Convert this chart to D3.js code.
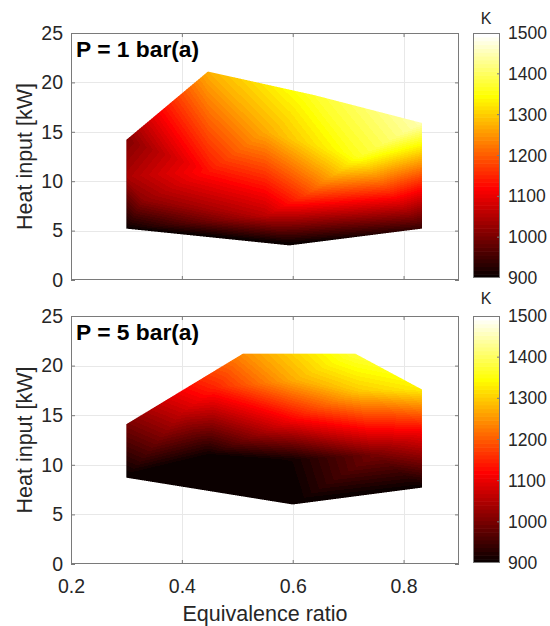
<!DOCTYPE html>
<html>
<head>
<meta charset="utf-8">
<script src="https://cdn.jsdelivr.net/npm/d3@7/dist/d3.min.js"></script>
<style>
  body { margin: 0; background: #fff; }
  svg { display: block; font-family: "Liberation Sans", Arial, Helvetica, sans-serif; }
</style>
</head>
<body>
<svg id="fig" width="550" height="626"></svg>
<script>
// Measured operating points: equivalence ratio, heat input [kW], temperature [K]
// P = 1 bar(a)
const phiLow  = [0.300, 0.594, 0.833, 0.833, 0.447, 0.300, 0.45, 0.72, 0.832, 0.62, 0.55, 0.33, 0.55, 0.64, 0.301];
const heatLow = [5.2,   3.5,   5.2,   15.9,  21.1,  14.2,  11.0, 12.5, 9.5,   8.5,  6.5,  8.0,  15.0, 18.7, 10.5];
const tempLow = [900,   890,   940,   1450,  1275,  1010,  1135, 1365, 1140,  1170, 1060, 1020, 1270, 1370, 1045];

// P = 5 bar(a)
const phiHigh  = [0.300, 0.600, 0.833, 0.833, 0.713, 0.510, 0.300, 0.40, 0.45, 0.60, 0.60, 0.60, 0.832, 0.75, 0.46, 0.72];
const heatHigh = [8.7,   6.0,   7.7,   17.6,  21.2,  21.2,  14.1,  15.3, 11.0, 10.5, 14.5, 18.5, 13.5,  11.0, 17.8, 17.5];
const tempHigh = [895,   895,   900,   1330,  1380,  1245,  1000,  1070, 905,  910,  1115, 1270, 1120,  1000, 1150, 1300];

const panelTitles = ["P = 1 bar(a)", "P = 5 bar(a)"];
const xTicks = [0.2, 0.4, 0.6, 0.8];
const yTicks = [0, 5, 10, 15, 20, 25];
const cbarTicks = [900, 1000, 1100, 1200, 1300, 1400, 1500];
const cbarUnit = "K";
const xLabel = "Equivalence ratio";
const yLabel = "Heat input [kW]";

// MATLAB-style "hot" colormap with 64 entries
function hotColors(m) {
  const n = Math.floor(3 / 8 * m);
  const out = [];
  for (let i = 0; i < m; i++) {
    const r = i < n ? (i + 1) / n : 1;
    const g = i < n ? 0 : (i < 2 * n ? (i - n + 1) / n : 1);
    const b = i < 2 * n ? 0 : (i - 2 * n + 1) / (m - 2 * n);
    out.push(d3.rgb(r * 255, g * 255, b * 255).formatHex());
  }
  return out;
}
const hot = hotColors(64);
const color = d3.scaleQuantize().domain([900, 1500]).range(hot);

const svg = d3.select("#fig");
const textColor = "#262626";
const axisColor = "#7a7a7a";
const gridColor = "#e8e8e8";

const plotX = [71, 459];
const panels = [
  { top: 33,  bottom: 280, phi: phiLow,  heat: heatLow,  temp: tempLow,  title: panelTitles[0], cbar: [33, 278], unitY: 24,  xLabels: false },
  { top: 316, bottom: 564, phi: phiHigh, heat: heatHigh, temp: tempHigh, title: panelTitles[1], cbar: [316, 563], unitY: 304, xLabels: true }
];

// Rasterise the triangulated field with linear interpolation inside each triangle
function drawField(g, p, x, y) {
  const x0 = plotX[0], y0 = p.top;
  const W = plotX[1] - plotX[0], H = p.bottom - p.top;
  const pts = p.phi.map((v, i) => [x(v) - x0, y(p.heat[i]) - y0]);
  const del = d3.Delaunay.from(pts);
  const tri = del.triangles;
  const cov = new Float32Array(W * H);
  const acc = new Float32Array(W * H);
  const S = 3; // subsamples per pixel side
  for (let k = 0; k < tri.length; k += 3) {
    const i = tri[k], j = tri[k + 1], l = tri[k + 2];
    const [ax, ay] = pts[i], [bx, by] = pts[j], [cx, cy] = pts[l];
    const den = (by - cy) * (ax - cx) + (cx - bx) * (ay - cy);
    if (Math.abs(den) < 1e-9) continue;
    const minX = Math.max(0, Math.floor(Math.min(ax, bx, cx)));
    const maxX = Math.min(W - 1, Math.ceil(Math.max(ax, bx, cx)));
    const minY = Math.max(0, Math.floor(Math.min(ay, by, cy)));
    const maxY = Math.min(H - 1, Math.ceil(Math.max(ay, by, cy)));
    for (let py = minY; py <= maxY; py++) {
      for (let px = minX; px <= maxX; px++) {
        let c = 0, tsum = 0;
        for (let sy = 0; sy < S; sy++) {
          for (let sx = 0; sx < S; sx++) {
            const qx = px + (sx + 0.5) / S, qy = py + (sy + 0.5) / S;
            const w1 = ((by - cy) * (qx - cx) + (cx - bx) * (qy - cy)) / den;
            const w2 = ((cy - ay) * (qx - cx) + (ax - cx) * (qy - cy)) / den;
            const w3 = 1 - w1 - w2;
            if (w1 >= -1e-7 && w2 >= -1e-7 && w3 >= -1e-7) {
              c++;
              tsum += w1 * p.temp[i] + w2 * p.temp[j] + w3 * p.temp[l];
            }
          }
        }
        if (c) {
          const idx = py * W + px;
          cov[idx] += c / (S * S);
          acc[idx] += tsum / (S * S);
        }
      }
    }
  }
  const canvas = document.createElement("canvas");
  canvas.width = W; canvas.height = H;
  const ctx = canvas.getContext("2d");
  const img = ctx.createImageData(W, H);
  for (let idx = 0; idx < W * H; idx++) {
    const c = cov[idx];
    if (c <= 0) continue;
    const t = acc[idx] / c;
    const rgb = d3.rgb(color(t));
    img.data[idx * 4] = rgb.r;
    img.data[idx * 4 + 1] = rgb.g;
    img.data[idx * 4 + 2] = rgb.b;
    img.data[idx * 4 + 3] = Math.round(Math.min(1, c) * 255);
  }
  ctx.putImageData(img, 0, 0);
  g.append("image")
    .attr("x", x0).attr("y", y0)
    .attr("width", W).attr("height", H)
    .attr("href", canvas.toDataURL());
}

panels.forEach((p, pi) => {
  const x = d3.scaleLinear().domain([0.2, 0.9]).range(plotX);
  const y = d3.scaleLinear().domain([0, 25]).range([p.bottom, p.top]);
  const g = svg.append("g");

  // grid
  g.append("g").selectAll("line").data(xTicks.slice(1)).join("line")
    .attr("x1", d => Math.round(x(d)) + 0.5).attr("x2", d => Math.round(x(d)) + 0.5)
    .attr("y1", p.top).attr("y2", p.bottom)
    .attr("stroke", gridColor).attr("stroke-width", 1);
  g.append("g").selectAll("line").data(yTicks.slice(1, -1)).join("line")
    .attr("x1", plotX[0]).attr("x2", plotX[1])
    .attr("y1", d => Math.round(y(d)) + 0.5).attr("y2", d => Math.round(y(d)) + 0.5)
    .attr("stroke", gridColor).attr("stroke-width", 1);

  // interpolated temperature field
  drawField(g, p, x, y);

  // axes with inward ticks
  const tick = 4;
  const left = g.append("g").attr("transform", `translate(${plotX[0]},0)`)
    .call(d3.axisLeft(y).tickValues(yTicks).tickSizeInner(-tick).tickSizeOuter(0).tickPadding(8));
  const right = g.append("g").attr("transform", `translate(${plotX[1]},0)`)
    .call(d3.axisRight(y).tickValues(yTicks).tickSizeInner(-tick).tickSizeOuter(0).tickFormat(""));
  const bottom = g.append("g").attr("transform", `translate(0,${p.bottom})`)
    .call(d3.axisBottom(x).tickValues(xTicks).tickSizeInner(-tick).tickSizeOuter(0)
      .tickFormat(p.xLabels ? d3.format(".1f") : ""));
  const topAx = g.append("g").attr("transform", `translate(0,${p.top})`)
    .call(d3.axisTop(x).tickValues(xTicks).tickSizeInner(-tick).tickSizeOuter(0).tickFormat(""));
  [left, right, bottom, topAx].forEach(a => {
    a.select(".domain").remove();
    a.selectAll(".tick line").attr("stroke", axisColor);
    a.selectAll(".tick text").attr("fill", textColor).attr("font-size", 19.5)
      .attr("font-family", "Liberation Sans, Arial, sans-serif");
  });
  bottom.selectAll(".tick text").attr("dy", null).attr("y", 28.5);

  // box
  g.append("rect")
    .attr("x", plotX[0] + 0.5).attr("y", p.top + 0.5)
    .attr("width", plotX[1] - plotX[0] - 1).attr("height", p.bottom - p.top - 1)
    .attr("fill", "none").attr("stroke", axisColor).attr("stroke-width", 1);

  // panel title
  g.append("text")
    .attr("x", 76).attr("y", p.top + 23.5)
    .attr("font-size", 22.8).attr("font-weight", "bold").attr("fill", "#000")
    .text(p.title);

  // y label
  g.append("text")
    .attr("transform", `translate(32,${(p.top + p.bottom) / 2}) rotate(-90)`)
    .attr("text-anchor", "middle")
    .attr("font-size", 21.5).attr("fill", textColor)
    .text(yLabel);

  // colour bar
  const cb = d3.scaleLinear().domain([900, 1500]).range([p.cbar[1], p.cbar[0]]);
  const cbX = [473, 500];
  const step = 600 / hot.length;
  const clipId = "cbclip" + pi;
  g.append("clipPath").attr("id", clipId).append("rect")
    .attr("x", cbX[0]).attr("y", p.cbar[0])
    .attr("width", cbX[1] - cbX[0]).attr("height", p.cbar[1] - p.cbar[0]);
  g.append("g").attr("clip-path", `url(#${clipId})`)
    .selectAll("rect").data(hot).join("rect")
    .attr("x", cbX[0]).attr("width", cbX[1] - cbX[0])
    .attr("y", (d, i) => cb(900 + (i + 1) * step))
    .attr("height", (d, i) => cb(900 + i * step) - cb(900 + (i + 1) * step) + 0.6)
    .attr("fill", d => d);
  g.append("g").selectAll("line").data(cbarTicks.slice(1, -1)).join("line")
    .attr("x1", cbX[1] - 3).attr("x2", cbX[1])
    .attr("y1", d => cb(d)).attr("y2", d => cb(d))
    .attr("stroke", axisColor);
  g.append("rect")
    .attr("x", cbX[0] + 0.5).attr("y", p.cbar[0] + 0.5)
    .attr("width", cbX[1] - cbX[0] - 1).attr("height", p.cbar[1] - p.cbar[0] - 1)
    .attr("fill", "none").attr("stroke", axisColor);
  g.append("g").selectAll("text").data(cbarTicks).join("text")
    .attr("x", 508).attr("y", d => cb(d)).attr("dy", "0.35em")
    .attr("font-size", 17.5).attr("fill", textColor)
    .text(d => d);
  g.append("text")
    .attr("x", 486).attr("y", p.unitY).attr("text-anchor", "middle")
    .attr("font-size", 16).attr("fill", textColor)
    .text(cbarUnit);
});

// shared x label
svg.append("text")
  .attr("x", (plotX[0] + plotX[1]) / 2).attr("y", 621)
  .attr("text-anchor", "middle")
  .attr("font-size", 21.5).attr("fill", textColor)
  .text(xLabel);
</script>
</body>
</html>
